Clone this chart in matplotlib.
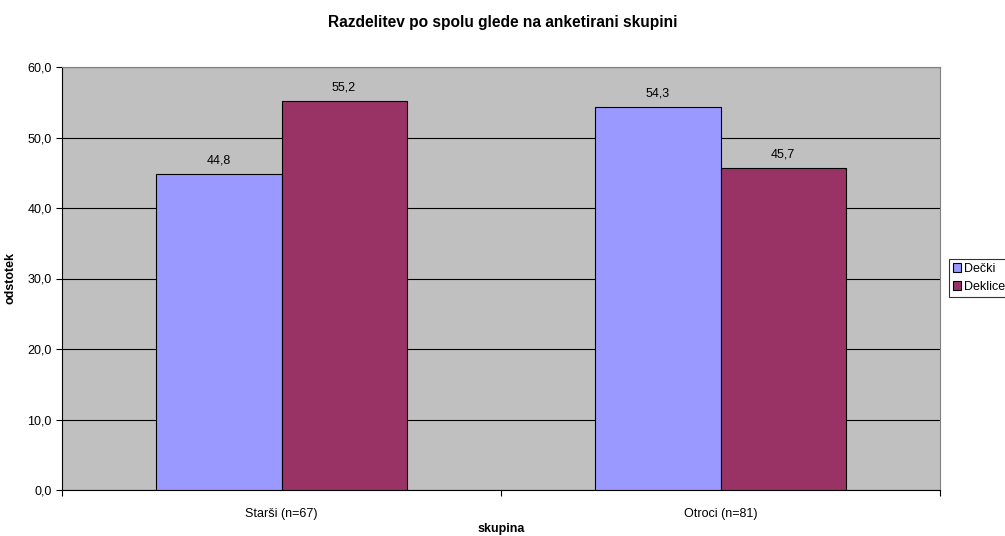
import matplotlib
matplotlib.use('Agg')
import matplotlib.pyplot as plt
import numpy as np

# podatki
skupine = ['Starši (n=67)', 'Otroci (n=81)']
decki = [44.8, 54.3]
deklice = [55.2, 45.7]
y_ticks = [0, 10, 20, 30, 40, 50, 60]

plt.rcParams['font.family'] = ['Liberation Sans', 'DejaVu Sans']

fig = plt.figure(figsize=(10.05, 5.36), dpi=100)
ax = fig.add_axes([62 / 1005, 46 / 536, 878 / 1005, 423 / 536])
ax.set_facecolor('#C0C0C0')

x = np.arange(len(skupine))
w = 0.285
b1 = ax.bar(x - w / 2, decki, w, color='#9999FF', edgecolor='black', linewidth=0.8, label='Dečki', zorder=3)
b2 = ax.bar(x + w / 2, deklice, w, color='#993366', edgecolor='black', linewidth=0.8, label='Deklice', zorder=3)

for bars in (b1, b2):
    for r in bars:
        ax.text(r.get_x() + r.get_width() / 2, r.get_height() + 1.1,
                f'{r.get_height():.1f}'.replace('.', ','),
                ha='center', va='bottom', fontsize=9)

ax.set_xlim(-0.5, 1.5)
ax.set_ylim(0, 60)
ax.set_yticks(y_ticks)
ax.set_yticklabels([f'{v:.1f}'.replace('.', ',') for v in y_ticks], fontsize=9)
ax.yaxis.grid(True, color='black', linewidth=0.8, zorder=0)
ax.set_axisbelow(True)

# kategorije z oznakami na sredini, kljukice na mejah
ax.set_xticks([-0.5, 0.5, 1.5])
ax.set_xticklabels([])
ax.set_xticks(x, minor=True)
ax.set_xticklabels(skupine, minor=True, fontsize=9)
ax.tick_params(axis='x', which='minor', length=0, pad=13)
ax.tick_params(axis='x', which='major', length=4, direction='out')
ax.tick_params(axis='y', length=4, direction='out')

for s in ['top', 'right']:
    ax.spines[s].set_color('#808080')
    ax.spines[s].set_linewidth(0.8)
ax.spines['left'].set_linewidth(0.8)
ax.spines['bottom'].set_linewidth(0.8)

ax.set_xlabel('skupina', fontsize=9, fontweight='bold')
ax.xaxis.label.set_va('center')
ax.xaxis.set_label_coords(0.5, -39 / 423)
ax.set_ylabel('odstotek', fontsize=9, fontweight='bold', labelpad=8)
fig.text(0.5, 1 - 22 / 536, 'Razdelitev po spolu glede na anketirani skupini',
         ha='center', va='center', fontsize=11.2, fontweight='bold')

leg = fig.legend(loc='upper left', bbox_to_anchor=(949 / 1005, 1 - 259 / 536),
                 fontsize=9, frameon=True, fancybox=False, edgecolor='black',
                 handlelength=0.65, handleheight=0.65, handletextpad=0.25,
                 borderpad=0.3, labelspacing=0.5, borderaxespad=0)
leg.get_frame().set_linewidth(0.8)

fig.savefig('out.png', dpi=100)
